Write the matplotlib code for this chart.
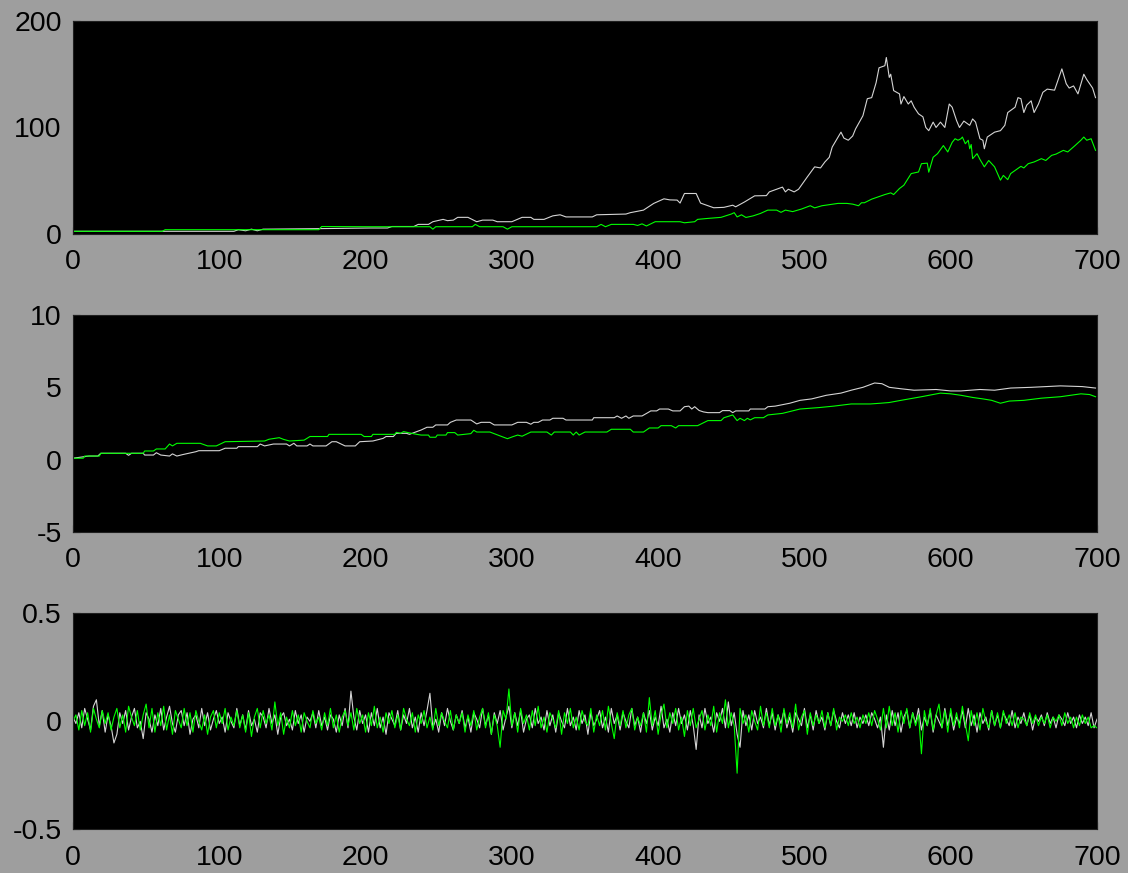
import numpy as np
import matplotlib.pyplot as plt

plt.rcParams['font.family'] = ['Liberation Sans', 'DejaVu Sans']

# ---------------------------
# Panel 1: cumulative level (white / green)
# ---------------------------
lvl_w_x = [0, 60, 110, 113, 118, 122, 126, 130, 168, 203, 215, 218, 233, 236, 243, 246,
           253, 256, 260, 263, 270, 276, 280, 287, 290, 300, 307, 313, 315, 322, 328, 333,
           337, 355, 358, 378, 381, 390, 397, 404, 408, 413, 415, 418, 426, 429, 438, 445,
           451, 453, 459, 466, 474, 476, 485, 487, 489, 493, 496, 502, 507, 511, 514, 517,
           519, 525, 527, 530, 533, 535, 540, 543, 546, 549, 551, 555, 556, 558, 559, 561,
           565, 566, 568, 571, 573, 575, 578, 581, 583, 585, 588, 590, 593, 596, 599, 601,
           604, 606, 609, 613, 615, 617, 620, 622, 623, 625, 630, 634, 637, 639, 644, 646,
           648, 650, 652, 655, 657, 660, 663, 666, 671, 676, 679, 681, 684, 687, 691, 693,
           695, 697, 699]
lvl_w_y = [2.5, 2.5, 2.5, 4, 3, 4.5, 3, 4.5, 5, 5.6, 5.6, 7, 7, 9, 9, 11.5,
           13.7, 12.5, 13, 15.6, 15.6, 11.5, 13, 13, 11.5, 11.5, 15.6, 15.6, 13.7, 13.7, 17, 18,
           16, 16, 18, 18.7, 20, 22.4, 28.7, 33, 32, 31.8, 29, 38, 38, 29, 24.6, 25,
           27, 25.5, 30, 35.8, 36, 39.5, 44, 39.5, 42, 39.5, 42, 53.6, 63, 62, 67.6, 72,
           81.6, 95.6, 90, 88, 92, 98.7, 111, 127, 128, 142, 156, 158, 165.7, 147, 150, 134.6,
           131.5, 122, 129, 122, 125, 119, 112.8, 110, 100, 97, 105, 100, 105, 100, 122, 119,
           106.5, 100, 106, 102, 108, 105, 89.4, 88, 80, 91, 95.6, 97, 102, 114, 119, 128,
           127, 114, 121, 125, 114, 122, 133, 136, 135, 155, 141, 137, 139, 131.5, 150, 145,
           141, 137, 128]

lvl_g_x = [0, 61, 63, 168, 170, 203, 244, 246, 248, 273, 275, 278, 294, 297, 300, 358,
           361, 364, 368, 383, 386, 389, 392, 398, 415, 418, 425, 427, 434, 443, 450, 452,
           454, 457, 460, 465, 470, 475, 481, 484, 487, 492, 498, 504, 507, 512, 523, 529,
           533, 537, 539, 541, 546, 555, 559, 561, 565, 568, 573, 578, 580, 584, 585, 588,
           591, 595, 598, 601, 603, 605, 607, 608, 610, 612, 613, 614, 615, 618, 620, 623,
           626, 630, 634, 636, 639, 641, 648, 650, 653, 657, 662, 665, 669, 672, 677, 680,
           685, 689, 691, 693, 696, 699]
lvl_g_y = [2.5, 2.5, 4, 4, 7, 6.8, 6.8, 4.5, 6.8, 6.8, 9, 6.8, 6.8, 4.5, 6.8, 6.8,
           9, 6.8, 9, 9, 8, 9.5, 7.5, 11.5, 11.5, 10.5, 11.5, 13.7, 14.6, 15.6, 18.7, 20,
           16, 18, 15.5, 17, 19.3, 22.4, 22.4, 20.3, 22.4, 21, 23.4, 26.5, 24.5, 26.5, 28.7, 28.7,
           28, 26.5, 29.3, 29.3, 32.7, 37, 38.6, 37, 42.7, 45.8, 56.7, 58.2, 66, 66.5, 58, 72,
           75.4, 83, 77, 86, 89.4, 88, 89.4, 91, 84.7, 88, 80, 84, 70.7, 75.4, 70, 63,
           69, 63, 50.5, 55, 51, 56.7, 63.5, 62, 66, 67.6, 70.7, 69, 73.8, 75, 78.5, 77,
           83, 88, 91, 88, 89.4, 78.5]

# ---------------------------
# Panel 2: log level (white / green)
# ---------------------------
log_w_x = [0, 11, 17, 19, 36, 38, 40, 48, 49, 55, 57, 60, 66, 68, 71, 75, 84, 86, 100, 104,
           112, 113, 126, 128, 131, 137, 146, 148, 151, 153, 160, 162, 164, 173, 177, 180, 186,
           193, 196, 205, 212, 214, 219, 221, 228, 230, 235, 238, 242, 246, 248, 256, 258, 262,
           272, 276, 279, 285, 288, 300, 304, 310, 313, 315, 318, 321, 326, 328, 335, 337, 355,
           356, 370, 372, 375, 378, 380, 383, 389, 393, 395, 399, 401, 407, 410, 415, 418, 421,
           423, 425, 428, 431, 434, 442, 444, 449, 451, 453, 462, 463, 473, 475, 480, 490, 497,
           505, 515, 525, 532, 540, 548, 553, 558, 566, 575, 590, 600, 607, 620, 630, 641, 655,
           665, 675, 690, 699]
log_w_y = [0.1, 0.25, 0.25, 0.44, 0.44, 0.3, 0.44, 0.44, 0.32, 0.32, 0.48, 0.32, 0.25, 0.4,
           0.25, 0.35, 0.55, 0.62, 0.62, 0.79, 0.79, 0.9, 0.9, 1.08, 0.95, 1.08, 1.08, 0.95,
           1.13, 0.95, 0.95, 1.08, 0.95, 0.95, 1.24, 1.24, 0.95, 0.95, 1.24, 1.29, 1.47, 1.6,
           1.6, 1.82, 1.82, 1.75, 1.94, 2.05, 2.24, 2.24, 2.4, 2.4, 2.58, 2.74, 2.74, 2.47, 2.58,
           2.58, 2.4, 2.4, 2.58, 2.58, 2.45, 2.58, 2.58, 2.74, 2.74, 2.86, 2.86, 2.74, 2.74, 2.9,
           2.9, 3.02, 2.86, 3.02, 2.86, 3.02, 3.02, 3.25, 3.37, 3.37, 3.5, 3.5, 3.37, 3.37, 3.66,
           3.7, 3.5, 3.66, 3.4, 3.3, 3.25, 3.25, 3.39, 3.39, 3.25, 3.37, 3.37, 3.5, 3.5, 3.66,
           3.7, 3.9, 4.1, 4.2, 4.45, 4.6, 4.8, 5.0, 5.3, 5.25, 5.0, 4.9, 4.8, 4.85, 4.75, 4.75,
           4.85, 4.8, 4.95, 5.0, 5.05, 5.1, 5.05, 4.95]

log_g_x = [0, 7, 8, 18, 19, 48, 49, 55, 57, 63, 66, 68, 71, 87, 92, 98, 104, 131, 134, 141,
           144, 148, 158, 162, 174, 175, 197, 199, 204, 205, 220, 221, 224, 226, 230, 235, 238,
           243, 244, 248, 249, 255, 256, 261, 263, 272, 274, 276, 285, 292, 297, 301, 304, 307,
           313, 324, 327, 329, 340, 342, 344, 346, 350, 365, 368, 381, 383, 390, 394, 400, 402,
           409, 412, 414, 427, 430, 434, 443, 445, 451, 454, 456, 459, 461, 463, 466, 472, 475,
           485, 497, 510, 520, 532, 545, 552, 558, 566, 580, 593, 600, 607, 615, 622, 628, 634,
           640, 650, 662, 675, 689, 695, 699]
log_g_y = [0.1, 0.1, 0.25, 0.25, 0.44, 0.44, 0.6, 0.6, 0.74, 0.74, 1.08, 0.95, 1.13, 1.13,
           0.95, 0.95, 1.24, 1.29, 1.41, 1.52, 1.4, 1.29, 1.35, 1.6, 1.6, 1.75, 1.75, 1.6, 1.6,
           1.75, 1.75, 1.89, 1.82, 1.94, 1.85, 1.75, 1.7, 1.7, 1.55, 1.55, 1.7, 1.7, 1.87, 1.87,
           1.7, 1.8, 2.03, 1.91, 1.91, 1.64, 1.45, 1.6, 1.7, 1.62, 1.91, 1.91, 1.7, 1.91, 1.91,
           1.7, 1.91, 1.7, 1.91, 1.91, 2.1, 2.1, 1.91, 1.91, 2.19, 2.19, 2.35, 2.35, 2.19, 2.35,
           2.35, 2.5, 2.7, 2.7, 2.9, 3.09, 2.7, 2.86, 2.7, 2.86, 2.75, 2.9, 2.9, 3.09, 3.2, 3.5,
           3.6, 3.7, 3.85, 3.85, 3.9, 3.95, 4.1, 4.35, 4.6, 4.55, 4.45, 4.3, 4.2, 4.1, 3.9, 4.05,
           4.1, 4.25, 4.35, 4.55, 4.5, 4.35]

# ---------------------------
# Panel 3: returns, one value every 2 steps
# ---------------------------
ret_w = [0.02, -0.01, 0.04, -0.03, 0.06, 0.01, -0.04, 0.07, 0.10, -0.02, 0.05, -0.05, 0.03, -0.02, -0.10,
         -0.06, 0.04, -0.01, 0.05, -0.04, 0.02, 0.06, -0.03, 0.00, -0.08, 0.04, 0.01, -0.05, 0.03, -0.02,
         0.06, -0.04, 0.02, 0.07, -0.01, -0.05, 0.03, 0.05, -0.02, 0.04, -0.06, 0.01, 0.03, -0.03, 0.06,
         -0.02, 0.04, -0.04, 0.01, 0.05, -0.01, 0.02, -0.05, 0.04, 0.00, -0.03, 0.06, -0.02, 0.03, -0.04,
         0.05, -0.02, 0.01, -0.05, 0.04, 0.02, -0.03, 0.06, -0.01, 0.03, -0.06, 0.02, 0.04, -0.02, 0.01,
         -0.04, 0.05, -0.01, 0.03, -0.05, 0.02, 0.00, 0.04, -0.03, 0.05, -0.02, 0.02, -0.04, 0.03, 0.01,
         -0.05, 0.03, -0.02, 0.06, -0.03, 0.14, 0.02, -0.04, 0.05, -0.01, 0.03, -0.05, 0.04, -0.02, 0.06,
         -0.03, 0.02, -0.06, 0.04, 0.01, -0.02, 0.05, -0.04, 0.03, -0.01, 0.06, -0.03, 0.02, -0.05, 0.04,
         -0.02, 0.05, 0.13, -0.03, 0.01, -0.05, 0.04, -0.02, 0.06, 0.00, -0.04, 0.03, -0.01, 0.05, -0.03,
         0.02, -0.05, 0.04, 0.01, -0.03, 0.06, -0.02, 0.03, -0.06, 0.04, -0.01, 0.05, -0.04, 0.02, 0.07,
         -0.03, 0.04, -0.02, 0.05, -0.05, 0.01, 0.03, -0.03, 0.06, -0.01, 0.02, -0.04, 0.05, -0.02, 0.03,
         -0.05, 0.04, 0.00, -0.03, 0.06, -0.02, 0.02, -0.04, 0.05, -0.01, 0.03, -0.06, 0.04, -0.02, 0.01,
         0.05, -0.03, 0.02, -0.05, 0.06, -0.01, 0.03, -0.04, 0.04, 0.00, -0.03, 0.06, -0.02, 0.02, -0.05,
         0.04, -0.01, 0.05, -0.04, 0.02, -0.02, 0.07, -0.03, 0.01, -0.05, 0.04, -0.02, 0.06, -0.01, 0.03,
         -0.04, 0.05, -0.02, -0.13, 0.03, -0.03, 0.06, -0.01, 0.02, -0.05, 0.04, 0.00, 0.06, -0.03, 0.09,
         -0.02, 0.04, -0.06, -0.12, 0.05, -0.02, 0.03, -0.04, 0.05, -0.01, 0.02, -0.03, 0.06, -0.02, 0.04,
         -0.04, 0.03, -0.01, 0.05, -0.03, 0.02, -0.05, 0.04, 0.01, -0.02, 0.06, -0.03, 0.03, -0.04, 0.05,
         -0.01, 0.02, -0.04, 0.04, -0.02, 0.05, 0.00, -0.03, 0.04, -0.01, 0.03, -0.02, 0.04, -0.03, 0.02,
         -0.01, 0.03, -0.02, 0.04, 0.01, -0.03, 0.02, -0.12, 0.03, -0.04, 0.05, -0.02, 0.04, -0.05, 0.02,
         0.05, -0.03, 0.04, -0.01, 0.06, -0.04, 0.02, -0.02, 0.05, -0.05, 0.03, 0.00, -0.03, 0.06, -0.02,
         0.04, -0.04, 0.02, -0.01, 0.05, -0.03, 0.06, -0.02, 0.03, -0.05, 0.04, -0.01, 0.02, -0.04, 0.05,
         -0.02, 0.03, -0.03, 0.04, 0.01, -0.02, 0.05, -0.03, 0.02, -0.01, 0.04, -0.02, 0.03, -0.04, 0.02,
         0.00, 0.03, -0.02, 0.04, -0.01, 0.02, -0.03, 0.03, 0.01, -0.02, 0.04, -0.01, 0.02, -0.03, 0.03,
         -0.01, 0.02, -0.02, 0.04, -0.03, 0.01]
ret_g = [0.00, 0.03, -0.04, 0.05, -0.02, 0.04, -0.05, 0.06, 0.01, -0.03, 0.05, -0.01, 0.04, -0.04, 0.02,
         0.06, -0.03, 0.03, -0.05, 0.07, 0.02, -0.02, 0.05, -0.04, 0.03, 0.08, -0.03, 0.06, -0.05, 0.04,
         -0.02, 0.07, -0.04, 0.03, -0.06, 0.05, 0.01, -0.03, 0.06, -0.02, 0.04, -0.05, 0.05, 0.00, -0.04,
         0.03, -0.06, 0.02, 0.05, -0.03, 0.04, -0.01, 0.06, -0.04, 0.02, -0.02, 0.05, -0.03, 0.03, -0.05,
         0.04, -0.07, 0.02, 0.06, -0.03, 0.05, -0.01, 0.03, -0.04, 0.09, -0.02, 0.04, -0.06, 0.02, -0.03,
         0.05, -0.02, 0.03, -0.05, 0.04, 0.00, -0.03, 0.05, -0.01, 0.02, -0.04, 0.04, -0.02, 0.06, -0.03,
         0.03, -0.05, 0.02, 0.05, -0.02, 0.04, -0.04, 0.06, -0.01, 0.03, -0.05, 0.04, -0.02, 0.07, -0.03,
         0.02, -0.05, 0.04, -0.01, 0.05, -0.03, 0.03, -0.04, 0.06, 0.01, -0.02, 0.04, -0.05, 0.03, -0.01,
         0.05, -0.03, 0.02, -0.04, 0.06, -0.02, 0.04, 0.00, -0.03, 0.05, -0.04, 0.03, -0.01, 0.04, -0.05,
         0.03, -0.02, 0.05, -0.04, 0.02, 0.06, -0.03, 0.04, -0.06, 0.03, -0.02, -0.12, 0.05, 0.01, 0.15,
         -0.02, 0.04, -0.05, 0.06, -0.01, 0.03, -0.04, 0.05, -0.02, 0.07, -0.03, 0.02, -0.05, 0.04, 0.01,
         -0.03, 0.05, -0.06, 0.04, -0.01, 0.06, -0.03, 0.02, -0.04, 0.05, 0.00, -0.02, 0.06, -0.05, 0.03,
         -0.02, 0.05, -0.04, 0.07, -0.01, -0.08, 0.04, -0.02, 0.05, -0.03, 0.03, 0.06, -0.04, 0.02, -0.02,
         0.04, -0.05, 0.11, -0.02, 0.05, -0.06, 0.03, 0.08, -0.03, 0.04, -0.01, 0.06, -0.04, 0.02, -0.07,
         0.05, -0.02, 0.06, -0.03, 0.01, 0.05, -0.04, 0.03, -0.02, 0.07, -0.05, 0.04, -0.01, 0.10, -0.03,
         0.04, -0.02, -0.24, 0.06, -0.01, 0.03, -0.05, 0.05, 0.00, -0.04, 0.07, -0.02, 0.04, -0.03, 0.06,
         -0.02, 0.03, -0.05, 0.06, -0.01, 0.04, -0.03, 0.08, -0.04, 0.02, 0.05, -0.06, 0.04, -0.02, 0.03,
         -0.01, 0.05, -0.03, 0.04, -0.02, 0.06, -0.04, 0.02, 0.00, 0.03, -0.02, 0.04, -0.01, 0.02, -0.03,
         0.03, -0.01, 0.04, -0.02, 0.05, 0.01, -0.04, 0.06, -0.03, 0.07, -0.02, 0.04, -0.05, 0.05, -0.01,
         0.06, -0.03, 0.04, -0.02, 0.03, -0.15, 0.05, -0.02, 0.06, -0.04, 0.03, 0.08, -0.03, 0.05, -0.05,
         0.06, -0.02, 0.04, -0.03, 0.07, -0.01, -0.09, 0.05, -0.02, 0.04, -0.04, 0.06, 0.00, -0.03, 0.05,
         -0.02, 0.04, -0.03, 0.05, -0.01, 0.03, -0.02, 0.04, -0.03, 0.02, 0.01, -0.02, 0.04, -0.01, 0.03,
         -0.02, 0.02, -0.01, 0.03, -0.03, 0.02, 0.00, 0.03, -0.02, 0.04, -0.01, 0.02, -0.03, 0.02, -0.02,
         0.03, -0.01, 0.02, -0.03, -0.02, -0.03]
ret_x_w = np.arange(len(ret_w)) * 2
ret_x_g = np.arange(len(ret_g)) * 2

x_ticks = [0, 100, 200, 300, 400, 500, 600, 700]
panels = [
    (lvl_w_x, lvl_w_y, lvl_g_x, lvl_g_y, (0, 200), [0, 100, 200], ['0', '100', '200']),
    (log_w_x, log_w_y, log_g_x, log_g_y, (-5, 10), [-5, 0, 5, 10], ['-5', '0', '5', '10']),
    (ret_x_w, ret_w, ret_x_g, ret_g, (-0.5, 0.5), [-0.5, 0, 0.5], ['-0.5', '0', '0.5']),
]

# axes rectangles in figure fractions
rects = [
    [0.0647, 0.7320, 0.9078, 0.2440],
    [0.0647, 0.3906, 0.9078, 0.2486],
    [0.0647, 0.0500, 0.9078, 0.2474],
]

fig = plt.figure(figsize=(11.28, 8.73), dpi=100)
fig.patch.set_facecolor('#9e9e9e')

for rect, (wx, wy, gx, gy, ylim, yt, ytl) in zip(rects, panels):
    ax = fig.add_axes(rect)
    ax.set_facecolor('black')
    ax.plot(wx, wy, color='#d4d4d4', linewidth=0.8)
    ax.plot(gx, gy, color='#00ff00', linewidth=0.8)
    ax.set_xlim(0, 700)
    ax.set_ylim(*ylim)
    ax.set_xticks(x_ticks)
    ax.set_xticklabels([str(t) for t in x_ticks])
    ax.set_yticks(yt)
    ax.set_yticklabels(ytl)
    ax.tick_params(axis='x', direction='in', length=5, color='black', pad=11, labelsize=20.5)
    ax.tick_params(axis='y', direction='in', length=5, color='black', pad=8, labelsize=20.5)
    for s in ax.spines.values():
        s.set_color('#202020')

fig.savefig('out.png', dpi=100, facecolor=fig.get_facecolor())
